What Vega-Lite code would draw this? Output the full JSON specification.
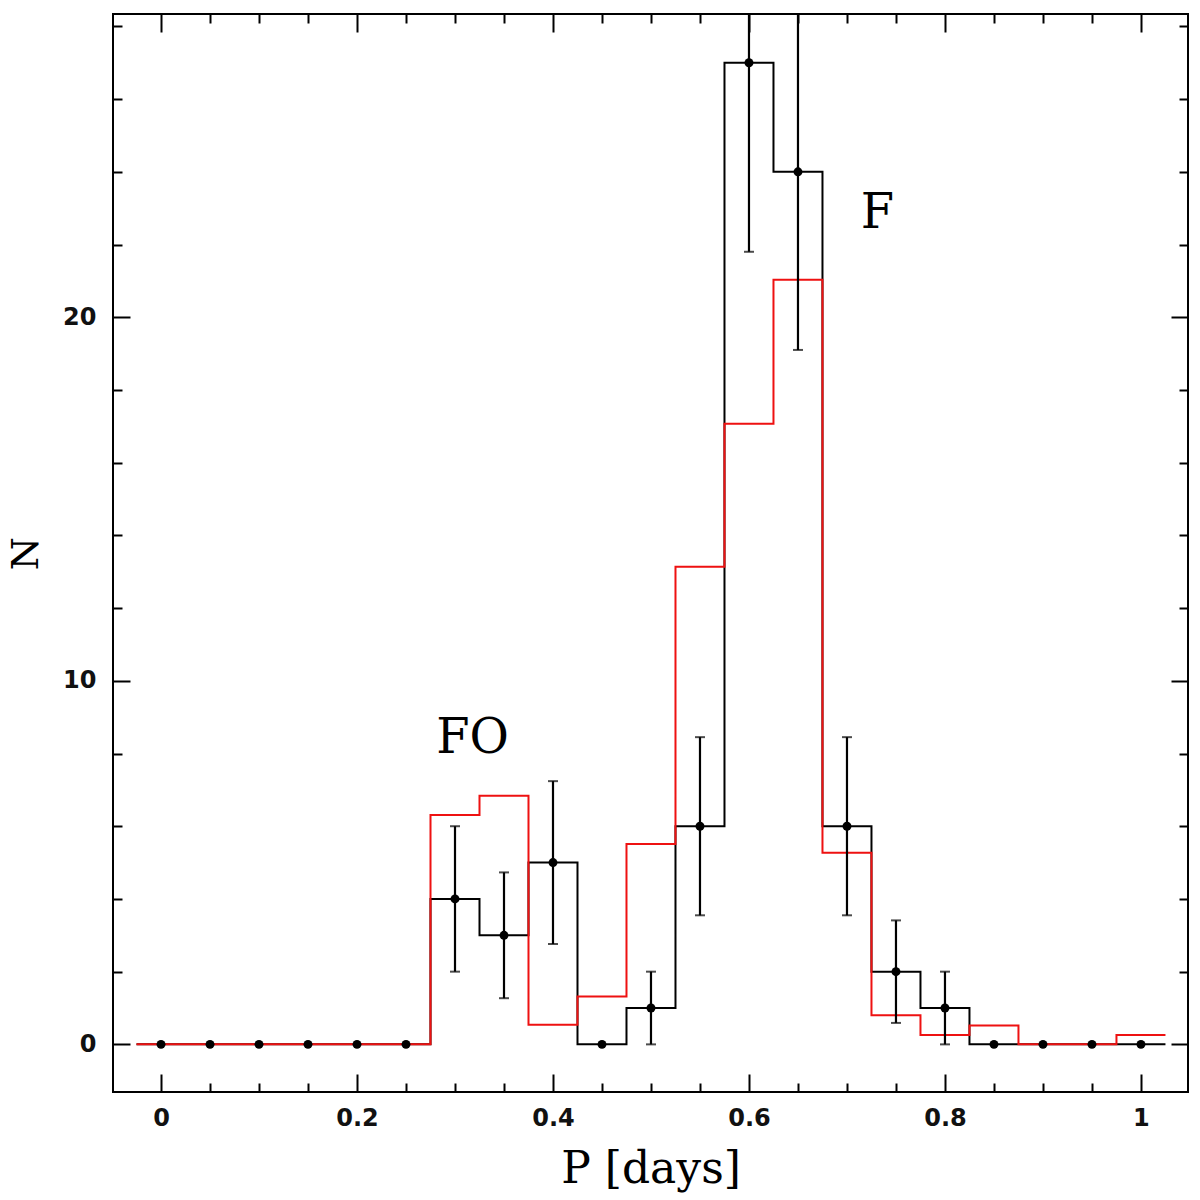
{
  "$schema": "https://vega.github.io/schema/vega-lite/v6.json",
  "width": 1075,
  "height": 1078,
  "autosize": {"type": "none"},
  "padding": {"left": 113, "top": 14, "right": 12, "bottom": 108},
  "background": "white",
  "config": {
    "view": {"stroke": "black", "strokeWidth": 2},
    "axis": {
      "domain": false,
      "grid": false,
      "tickColor": "black",
      "tickWidth": 2,
      "labelFont": "DejaVu Sans",
      "labelFontSize": 24,
      "labelFontWeight": "bold",
      "labelColor": "#111111",
      "titleFont": "DejaVu Serif",
      "titleFontSize": 44,
      "titleFontWeight": "normal",
      "titleColor": "black"
    }
  },
  "datasets": {
    "hist": [
      {"edge": -0.025, "N": 0, "series": "obs"},
      {"edge": 0.025, "N": 0, "series": "obs"},
      {"edge": 0.075, "N": 0, "series": "obs"},
      {"edge": 0.125, "N": 0, "series": "obs"},
      {"edge": 0.175, "N": 0, "series": "obs"},
      {"edge": 0.225, "N": 0, "series": "obs"},
      {"edge": 0.275, "N": 4, "series": "obs"},
      {"edge": 0.325, "N": 3, "series": "obs"},
      {"edge": 0.375, "N": 5, "series": "obs"},
      {"edge": 0.425, "N": 0, "series": "obs"},
      {"edge": 0.475, "N": 1, "series": "obs"},
      {"edge": 0.525, "N": 6, "series": "obs"},
      {"edge": 0.575, "N": 27, "series": "obs"},
      {"edge": 0.625, "N": 24, "series": "obs"},
      {"edge": 0.675, "N": 6, "series": "obs"},
      {"edge": 0.725, "N": 2, "series": "obs"},
      {"edge": 0.775, "N": 1, "series": "obs"},
      {"edge": 0.825, "N": 0, "series": "obs"},
      {"edge": 0.875, "N": 0, "series": "obs"},
      {"edge": 0.925, "N": 0, "series": "obs"},
      {"edge": 0.975, "N": 0, "series": "obs"},
      {"edge": 1.025, "N": 0, "series": "obs"},
      {"edge": -0.025, "N": 0, "series": "model"},
      {"edge": 0.025, "N": 0, "series": "model"},
      {"edge": 0.075, "N": 0, "series": "model"},
      {"edge": 0.125, "N": 0, "series": "model"},
      {"edge": 0.175, "N": 0, "series": "model"},
      {"edge": 0.225, "N": 0, "series": "model"},
      {"edge": 0.275, "N": 6.31, "series": "model"},
      {"edge": 0.325, "N": 6.84, "series": "model"},
      {"edge": 0.375, "N": 0.54, "series": "model"},
      {"edge": 0.425, "N": 1.32, "series": "model"},
      {"edge": 0.475, "N": 5.51, "series": "model"},
      {"edge": 0.525, "N": 13.14, "series": "model"},
      {"edge": 0.575, "N": 17.07, "series": "model"},
      {"edge": 0.625, "N": 21.03, "series": "model"},
      {"edge": 0.675, "N": 5.27, "series": "model"},
      {"edge": 0.725, "N": 0.8, "series": "model"},
      {"edge": 0.775, "N": 0.26, "series": "model"},
      {"edge": 0.825, "N": 0.52, "series": "model"},
      {"edge": 0.875, "N": 0, "series": "model"},
      {"edge": 0.925, "N": 0, "series": "model"},
      {"edge": 0.975, "N": 0.26, "series": "model"},
      {"edge": 1.025, "N": 0.26, "series": "model"}
    ],
    "obs": [
      {"P": 0, "N": 0},
      {"P": 0.05, "N": 0},
      {"P": 0.1, "N": 0},
      {"P": 0.15, "N": 0},
      {"P": 0.2, "N": 0},
      {"P": 0.25, "N": 0},
      {"P": 0.3, "N": 4, "lo": 2, "hi": 6},
      {"P": 0.35, "N": 3, "lo": 1.27, "hi": 4.73},
      {"P": 0.4, "N": 5, "lo": 2.76, "hi": 7.24},
      {"P": 0.45, "N": 0},
      {"P": 0.5, "N": 1, "lo": 0, "hi": 2},
      {"P": 0.55, "N": 6, "lo": 3.55, "hi": 8.45},
      {"P": 0.6, "N": 27, "lo": 21.8, "hi": 32.2},
      {"P": 0.65, "N": 24, "lo": 19.1, "hi": 28.9},
      {"P": 0.7, "N": 6, "lo": 3.55, "hi": 8.45},
      {"P": 0.75, "N": 2, "lo": 0.59, "hi": 3.41},
      {"P": 0.8, "N": 1, "lo": 0, "hi": 2},
      {"P": 0.85, "N": 0},
      {"P": 0.9, "N": 0},
      {"P": 0.95, "N": 0},
      {"P": 1, "N": 0}
    ],
    "labels": [
      {"P": 0.318, "N": 8.4, "text": "FO"},
      {"P": 0.731, "N": 22.83, "text": "F"}
    ]
  },
  "layer": [
    {
      "data": {"name": "hist"},
      "transform": [{"filter": "datum.series == 'obs'"}],
      "mark": {"type": "line", "interpolate": "step-after", "color": "black", "strokeWidth": 2},
      "encoding": {
        "x": {
          "field": "edge",
          "type": "quantitative",
          "scale": {"domain": [-0.049, 1.048], "nice": false, "zero": false},
          "axis": {
            "orient": "bottom",
            "values": [0, 0.05, 0.1, 0.15, 0.2, 0.25, 0.3, 0.35, 0.4, 0.45, 0.5, 0.55, 0.6, 0.65, 0.7, 0.75, 0.8, 0.85, 0.9, 0.95, 1],
            "format": "~g",
            "tickSize": {"condition": {"test": "abs(datum.value * 5 - round(datum.value * 5)) < 0.001", "value": -18}, "value": -9},
            "labelExpr": "abs(datum.value * 5 - round(datum.value * 5)) < 0.001 ? datum.label : ''",
            "labelPadding": 32,
            "title": "P [days]",
            "titlePadding": 17
          }
        },
        "y": {
          "field": "N",
          "type": "quantitative",
          "scale": {"domain": [-1.31, 28.34], "nice": false, "zero": false},
          "axis": {
            "orient": "left",
            "values": [0, 2, 4, 6, 8, 10, 12, 14, 16, 18, 20, 22, 24, 26, 28],
            "format": "d",
            "tickSize": {"condition": {"test": "datum.value % 10 == 0", "value": -17}, "value": -9},
            "labelExpr": "datum.value % 10 == 0 ? datum.label : ''",
            "labelPadding": 34,
            "title": "N",
            "titleFontSize": 38,
            "titlePadding": 17
          }
        }
      }
    },
    {
      "data": {"name": "hist"},
      "transform": [{"filter": "datum.series == 'model'"}],
      "mark": {"type": "line", "interpolate": "step-after", "color": "#ee1111", "strokeWidth": 2},
      "encoding": {
        "x": {
          "field": "edge",
          "type": "quantitative",
          "axis": {
            "orient": "top",
            "values": [0, 0.05, 0.1, 0.15, 0.2, 0.25, 0.3, 0.35, 0.4, 0.45, 0.5, 0.55, 0.6, 0.65, 0.7, 0.75, 0.8, 0.85, 0.9, 0.95, 1],
            "tickSize": {"condition": {"test": "abs(datum.value * 5 - round(datum.value * 5)) < 0.001", "value": -18}, "value": -9},
            "labels": false,
            "title": null
          }
        },
        "y": {
          "field": "N",
          "type": "quantitative",
          "axis": {
            "orient": "right",
            "values": [0, 2, 4, 6, 8, 10, 12, 14, 16, 18, 20, 22, 24, 26, 28],
            "tickSize": {"condition": {"test": "datum.value % 10 == 0", "value": -17}, "value": -9},
            "labels": false,
            "title": null
          }
        }
      }
    },
    {
      "data": {"name": "obs"},
      "transform": [{"filter": "isValid(datum.lo)"}],
      "mark": {"type": "rule", "color": "black", "strokeWidth": 2.2, "clip": true},
      "encoding": {
        "x": {"field": "P", "type": "quantitative", "axis": null},
        "y": {"field": "lo", "type": "quantitative", "axis": null},
        "y2": {"field": "hi"}
      }
    },
    {
      "data": {"name": "obs"},
      "transform": [{"filter": "isValid(datum.lo)"}],
      "mark": {"type": "tick", "orient": "horizontal", "color": "black", "size": 10, "thickness": 2, "clip": true},
      "encoding": {
        "x": {"field": "P", "type": "quantitative", "axis": null},
        "y": {"field": "lo", "type": "quantitative", "axis": null}
      }
    },
    {
      "data": {"name": "obs"},
      "transform": [{"filter": "isValid(datum.hi)"}],
      "mark": {"type": "tick", "orient": "horizontal", "color": "black", "size": 10, "thickness": 2, "clip": true},
      "encoding": {
        "x": {"field": "P", "type": "quantitative", "axis": null},
        "y": {"field": "hi", "type": "quantitative", "axis": null}
      }
    },
    {
      "data": {"name": "obs"},
      "mark": {"type": "circle", "color": "black", "size": 80, "opacity": 1},
      "encoding": {
        "x": {"field": "P", "type": "quantitative", "axis": null},
        "y": {"field": "N", "type": "quantitative", "axis": null}
      }
    },
    {
      "data": {"name": "labels"},
      "mark": {"type": "text", "font": "DejaVu Serif", "fontSize": 48, "color": "black", "align": "center", "baseline": "middle"},
      "encoding": {
        "x": {"field": "P", "type": "quantitative", "axis": null},
        "y": {"field": "N", "type": "quantitative", "axis": null},
        "text": {"field": "text"}
      }
    }
  ],
  "resolve": {"axis": {"x": "independent", "y": "independent"}}
}
